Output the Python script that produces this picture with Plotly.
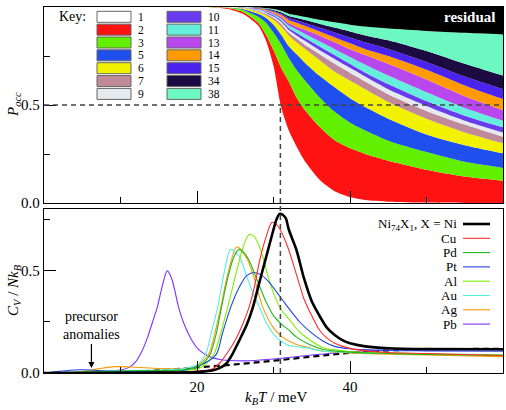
import plotly.graph_objects as go

# ---------------- data: top panel (cumulative occupation probabilities) ----------------
T_top = [0, 20, 22, 24, 26, 28, 29, 30, 31, 32, 33, 34, 36, 38, 40, 42, 45, 50, 55, 60]
cum_1  = [1, 1, 0.998, 0.99, 0.965, 0.905, 0.83, 0.70, 0.49, 0.37, 0.29, 0.22, 0.12, 0.06, 0.03, 0.015, 0.007, 0.002, 0.0, 0.0]
cum_2  = [1, 1, 0.999, 0.995, 0.975, 0.92, 0.86, 0.78, 0.69, 0.62, 0.54, 0.48, 0.39, 0.32, 0.28, 0.25, 0.216, 0.17, 0.135, 0.114]
cum_3  = [1, 1, 1, 0.997, 0.985, 0.95, 0.92, 0.87, 0.81, 0.74, 0.68, 0.63, 0.54, 0.465, 0.41, 0.37, 0.318, 0.26, 0.21, 0.179]
cum_5  = [1, 1, 1, 0.998, 0.99, 0.965, 0.945, 0.91, 0.86, 0.80, 0.76, 0.72, 0.65, 0.59, 0.535, 0.49, 0.43, 0.35, 0.295, 0.254]
cum_6  = [1, 1, 1, 0.999, 0.993, 0.975, 0.958, 0.935, 0.90, 0.855, 0.82, 0.79, 0.73, 0.67, 0.625, 0.58, 0.515, 0.43, 0.36, 0.305]
cum_7  = [1, 1, 1, 0.999, 0.995, 0.98, 0.965, 0.945, 0.915, 0.87, 0.84, 0.81, 0.76, 0.71, 0.665, 0.62, 0.555, 0.47, 0.40, 0.338]
cum_9  = [1, 1, 1, 1, 0.996, 0.983, 0.97, 0.952, 0.925, 0.883, 0.855, 0.83, 0.78, 0.735, 0.69, 0.645, 0.58, 0.495, 0.42, 0.36]
cum_10 = [1, 1, 1, 1, 0.997, 0.985, 0.973, 0.958, 0.932, 0.893, 0.868, 0.845, 0.80, 0.755, 0.71, 0.665, 0.607, 0.52, 0.445, 0.386]
cum_11 = [1, 1, 1, 1, 0.997, 0.987, 0.977, 0.963, 0.94, 0.905, 0.885, 0.865, 0.825, 0.785, 0.745, 0.705, 0.65, 0.565, 0.485, 0.42]
cum_13 = [1, 1, 1, 1, 0.998, 0.99, 0.982, 0.97, 0.95, 0.917, 0.90, 0.885, 0.855, 0.82, 0.785, 0.755, 0.71, 0.63, 0.545, 0.474]
cum_14 = [1, 1, 1, 1, 0.998, 0.992, 0.986, 0.976, 0.96, 0.934, 0.92, 0.905, 0.875, 0.845, 0.815, 0.785, 0.75, 0.68, 0.60, 0.53]
cum_15 = [1, 1, 1, 1, 0.999, 0.994, 0.989, 0.98, 0.967, 0.944, 0.932, 0.92, 0.895, 0.87, 0.845, 0.82, 0.786, 0.72, 0.645, 0.58]
cum_34 = [1, 1, 1, 1, 0.999, 0.995, 0.991, 0.985, 0.973, 0.954, 0.945, 0.935, 0.915, 0.895, 0.875, 0.855, 0.83, 0.775, 0.71, 0.65]
cum_38 = [1, 1, 1, 1, 1, 0.997, 0.994, 0.99, 0.981, 0.966, 0.958, 0.95, 0.935, 0.922, 0.91, 0.90, 0.89, 0.878, 0.868, 0.86]
cum_res = [1] * len(T_top)

cluster_labels = ["1", "2", "3", "5", "6", "7", "9", "10", "11", "13", "14", "15", "34", "38"]
cluster_colors = ["#ffffff", "#ff1212", "#62f000", "#1f4fec", "#f2f200", "#c08a9a", "#e4eaee",
                  "#6a3cf0", "#66eedc", "#b847ee", "#ff9a00", "#4a24ee", "#1c0b42", "#6cf8c0"]
cum_list = [cum_1, cum_2, cum_3, cum_5, cum_6, cum_7, cum_9, cum_10, cum_11, cum_13, cum_14, cum_15, cum_34, cum_38]

# ---------------- data: bottom panel (heat capacity) ----------------
T_ni = [0, 10, 15, 20, 22, 23, 23.8, 24.6, 25.5, 26.5, 27.3, 28, 29, 30, 30.4, 30.8, 31.2, 31.6, 32, 33, 34, 35, 36, 37, 38, 39, 40, 42, 45, 50, 60]
Cv_ni = [0, 0.001, 0.002, 0.005, 0.012, 0.025, 0.045, 0.09, 0.157, 0.235, 0.32, 0.42, 0.56, 0.70, 0.75, 0.776, 0.772, 0.755, 0.70, 0.60, 0.46, 0.35, 0.28, 0.22, 0.185, 0.16, 0.145, 0.13, 0.121, 0.117, 0.116]

T_cu = [0, 10, 15, 18, 20, 22, 23, 24, 25, 26, 26.8, 27.5, 28.2, 29, 29.8, 30.5, 31, 32, 33, 34, 35, 36, 37, 38, 40, 42, 45, 50, 60]
Cv_cu = [0, 0.002, 0.004, 0.006, 0.01, 0.02, 0.05, 0.1, 0.16, 0.24, 0.32, 0.42, 0.55, 0.66, 0.735, 0.72, 0.69, 0.60, 0.48, 0.36, 0.28, 0.21, 0.17, 0.145, 0.12, 0.108, 0.10, 0.095, 0.085]

T_pd = [0, 5, 10, 15, 18, 20, 21, 21.7, 22.5, 23.2, 24, 24.8, 25.5, 26.2, 26.8, 28, 29, 30, 31, 32, 33, 34.7, 36.5, 40, 45, 50, 60]
Cv_pd = [0, 0.004, 0.01, 0.012, 0.015, 0.03, 0.055, 0.09, 0.19, 0.32, 0.46, 0.565, 0.603, 0.585, 0.55, 0.44, 0.35, 0.28, 0.24, 0.21, 0.175, 0.139, 0.115, 0.102, 0.095, 0.09, 0.085]

T_pt = [0, 2, 4, 6, 8, 10, 15, 18, 20, 22.5, 23.3, 24.4, 25.5, 26.5, 27.5, 28.5, 29.5, 30.5, 31.3, 32.1, 33.4, 34.7, 36.5, 38, 40, 45, 50, 60]
Cv_pt = [0, 0.008, 0.015, 0.015, 0.01, 0.008, 0.008, 0.012, 0.03, 0.09, 0.19, 0.32, 0.417, 0.475, 0.49, 0.475, 0.44, 0.39, 0.35, 0.31, 0.25, 0.204, 0.155, 0.13, 0.118, 0.11, 0.108, 0.106]

T_al = [0, 5, 10, 15, 18, 20, 21, 22.2, 23, 24, 25, 26, 26.8, 27.5, 28.5, 29.3, 30.1, 31, 32.1, 33.4, 34.7, 36.5, 40, 45, 50, 60]
Cv_al = [0, 0.004, 0.008, 0.01, 0.012, 0.02, 0.04, 0.09, 0.18, 0.32, 0.47, 0.61, 0.676, 0.665, 0.58, 0.47, 0.38, 0.31, 0.26, 0.20, 0.163, 0.123, 0.105, 0.097, 0.093, 0.088]

T_au = [0, 5, 10, 15, 18, 20, 21.1, 21.9, 22.7, 23.5, 24.4, 25.5, 26.5, 27.3, 28.2, 29, 30, 31, 32, 34.7, 36.5, 40, 45, 50, 60]
Cv_au = [0, 0.005, 0.012, 0.015, 0.02, 0.04, 0.09, 0.20, 0.32, 0.48, 0.603, 0.57, 0.47, 0.39, 0.32, 0.25, 0.19, 0.155, 0.135, 0.12, 0.106, 0.10, 0.095, 0.092, 0.09]

T_ag = [0, 3, 5, 7, 9.3, 12, 15, 18, 20, 21.5, 22.3, 23.1, 24, 25.2, 26.5, 27.5, 28.6, 30, 31, 32.9, 34.7, 36.5, 40, 45, 50, 60]
Cv_ag = [0, 0.002, 0.008, 0.02, 0.031, 0.028, 0.022, 0.022, 0.035, 0.09, 0.19, 0.32, 0.48, 0.615, 0.56, 0.46, 0.32, 0.22, 0.18, 0.14, 0.123, 0.106, 0.098, 0.092, 0.088, 0.08]

T_pb = [0, 5, 8, 10, 11, 12, 12.8, 13.5, 14.2, 14.8, 15.5, 16.1, 16.7, 17.6, 18.2, 19.4, 20.2, 21.1, 22, 23, 25, 27, 30, 35, 40, 45, 50, 60]
Cv_pb = [0, 0.004, 0.008, 0.015, 0.025, 0.055, 0.106, 0.17, 0.25, 0.32, 0.43, 0.498, 0.46, 0.32, 0.25, 0.155, 0.115, 0.09, 0.075, 0.066, 0.06, 0.06, 0.068, 0.088, 0.104, 0.112, 0.113, 0.112]

T_base = [0, 10, 12, 15, 20, 25, 30, 35, 40, 45, 50, 60]
Cv_base = [0, 0.003, 0.006, 0.013, 0.027, 0.042, 0.06, 0.08, 0.098, 0.11, 0.115, 0.118]

T_half = 30.9  # temperature where P_occ(cluster 1) = 0.5

species = ["Ni", "Cu", "Pd", "Pt", "Al", "Au", "Ag", "Pb"]
species_T = [T_ni, T_cu, T_pd, T_pt, T_al, T_au, T_ag, T_pb]
species_Cv = [Cv_ni, Cv_cu, Cv_pd, Cv_pt, Cv_al, Cv_au, Cv_ag, Cv_pb]
species_colors = ["#000000", "#ff2a2a", "#1fb81f", "#2244dd", "#7cf000", "#55f0e0", "#ff9900", "#7a33ff"]
species_widths = [2.6, 1.1, 1.1, 1.1, 1.1, 1.1, 1.1, 1.1]

# ---------------- figure ----------------
FONT = "Liberation Serif"
W, H = 506, 410
ML, MR, MT, MB = 44, 3, 7, 37


def px(x):
    return (x - ML) / (W - ML - MR)


def py(y):
    return (H - MB - y) / (H - MT - MB)


fig = go.Figure()

# top: stacked bands
prev = None
for lab, col, cum in zip(cluster_labels, cluster_colors, cum_list):
    fig.add_trace(go.Scatter(
        x=T_top, y=cum, mode="lines", line=dict(width=0, shape="spline", smoothing=0.7),
        fill="tozeroy" if prev is None else "tonexty", fillcolor=col,
        xaxis="x", yaxis="y", showlegend=False, hoverinfo="skip"))
    prev = cum
fig.add_trace(go.Scatter(
    x=T_top, y=cum_res, mode="lines", line=dict(width=0, shape="spline", smoothing=0.7),
    fill="tonexty", fillcolor="#000000", xaxis="x", yaxis="y", showlegend=False, hoverinfo="skip"))

# bottom: heat capacity curves
fig.add_trace(go.Scatter(x=T_base, y=Cv_base, mode="lines",
                         line=dict(color="black", width=2.2, dash="6px,4px", shape="spline"),
                         xaxis="x2", yaxis="y2", showlegend=False))
order = [7, 6, 5, 4, 3, 2, 1, 0]
for i in order:
    fig.add_trace(go.Scatter(x=species_T[i], y=species_Cv[i], mode="lines",
                             line=dict(color=species_colors[i], width=species_widths[i],
                                       shape="spline", smoothing=0.8),
                             xaxis="x2", yaxis="y2", showlegend=False))

axis_common = dict(showline=True, linecolor="black", linewidth=1.3, mirror=True,
                   ticks="inside", tickcolor="black", tickwidth=1.1, showgrid=False, zeroline=False,
                   automargin=False,
                   tickfont=dict(family=FONT, size=15, color="black"))

top_dom = [py(203), 1.0]
bot_dom = [0.0, py(209)]

fig.update_layout(
    width=W, height=H, margin=dict(l=ML, r=MR, t=MT, b=MB, autoexpand=False),
    paper_bgcolor="white", plot_bgcolor="white",
    xaxis=dict(domain=[0, 1], anchor="y", range=[0, 60], tickvals=[20, 40],
               showticklabels=False, ticklen=12,
               minor=dict(tickvals=[10, 30, 50], ticklen=6, ticks="inside", tickcolor="black"),
               **axis_common),
    yaxis=dict(domain=top_dom, anchor="x", range=[0, 1], tickvals=[0, 0.5, 1],
               ticktext=["0.0", "0.5", "1.0"], ticklen=12,
               minor=dict(tickvals=[0.25, 0.75], ticklen=6, ticks="inside", tickcolor="black"),
               **axis_common),
    xaxis2=dict(domain=[0, 1], anchor="y2", range=[0, 60], tickvals=[20, 40],
                ticktext=["20", "40"], ticklen=12,
                minor=dict(tickvals=[10, 30, 50], ticklen=6, ticks="inside", tickcolor="black"),
                **axis_common),
    yaxis2=dict(domain=bot_dom, anchor="x2", range=[0, 0.8], tickvals=[0, 0.5],
                ticktext=["0.0", "0.5"], ticklen=12,
                minor=dict(tickvals=[0.25, 0.75], ticklen=6, ticks="inside", tickcolor="black"),
                **axis_common),
)

shapes = []
ann = []
# dashed guides
shapes.append(dict(type="line", xref="paper", yref="y", x0=0, x1=1, y0=0.5, y1=0.5,
                   line=dict(color="#444444", width=1.5, dash="5px,4px"), layer="above"))
shapes.append(dict(type="line", xref="x", yref="y", x0=T_half, x1=T_half, y0=0, y1=0.5,
                   line=dict(color="#444444", width=1.5, dash="5px,4px"), layer="above"))
shapes.append(dict(type="line", xref="x2", yref="paper", x0=T_half, x1=T_half, y0=0, y1=py(203),
                   line=dict(color="#444444", width=1.5, dash="5px,4px"), layer="above"))


def text_ann(x, y, text, size=14, color="black", xanchor="center", angle=0):
    return dict(xref="paper", yref="paper", x=px(x), y=py(y), text=text, showarrow=False,
                xanchor=xanchor, yanchor="middle", textangle=angle,
                font=dict(family=FONT, size=size, color=color))


# top key
ann.append(text_ann(72, 16, "Key:", size=14))
rows = [16.8 + 12.85 * r for r in range(7)]
for k, (lab, col) in enumerate(zip(cluster_labels, cluster_colors)):
    c, r = divmod(k, 7)
    x0 = 97 if c == 0 else 167
    x1 = x0 + 34
    yc = rows[r]
    shapes.append(dict(type="rect", xref="paper", yref="paper", x0=px(x0), x1=px(x1),
                       y0=py(yc + 5.5), y1=py(yc - 5.5), fillcolor=col,
                       line=dict(color="#666666", width=1), layer="above"))
    ann.append(text_ann(x1 + 5, yc, lab, size=11.5, xanchor="left"))

ann.append(text_ann(497, 17, "<b>residual</b>", size=15, color="white", xanchor="right"))

# bottom legend
leg_names = ["Ni<sub>74</sub>X<sub>1</sub>, X = Ni", "Cu", "Pd", "Pt", "Al", "Au", "Ag", "Pb"]
for i, (nm, col, wd) in enumerate(zip(leg_names, species_colors, species_widths)):
    yc = 224 + i * 14.3
    ann.append(text_ann(459, yc, nm, size=13, xanchor="right"))
    shapes.append(dict(type="line", xref="paper", yref="paper", x0=px(463), x1=px(490),
                       y0=py(yc), y1=py(yc), line=dict(color=col, width=wd)))

# precursor annotation
ann.append(dict(xref="x2", yref="y2", x=6.2, y=0.025, text="precursor<br>anomalies",
                showarrow=True, arrowhead=2, arrowsize=1, arrowwidth=1.2, arrowcolor="black",
                ax=0, ay=-42, font=dict(family=FONT, size=14, color="black")))

# axis titles
ann.append(text_ann(14, 105, "<i>P</i><sub><i>occ</i></sub>", size=15, angle=-90))
ann.append(text_ann(14, 290, "<i>C</i><sub><i>V</i></sub> / <i>Nk</i><sub><i>B</i></sub>", size=15, angle=-90))
ann.append(text_ann(276, 398, "<i>k</i><sub><i>B</i></sub><i>T</i> / meV", size=15))

fig.update_layout(shapes=shapes, annotations=ann)
fig.write_html("out.html", config={"displayModeBar": False},
               post_script="document.body.style.margin='0px';")
